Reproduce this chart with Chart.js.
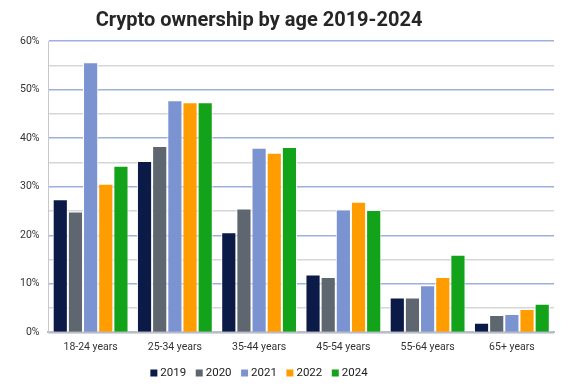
<!DOCTYPE html>
<html>
<head>
<meta charset="utf-8">
<script src="https://cdn.jsdelivr.net/npm/chart.js@4.4.0/dist/chart.umd.min.js"></script>
<style>
  html, body { margin: 0; padding: 0; background: #fff; }
  #wrap { width: 584px; height: 386px; }
</style>
</head>
<body>
<div id="wrap"><canvas id="myChart"></canvas></div>
<script>
// Data dari gambar
const categories = ['18-24 years', '25-34 years', '35-44 years', '45-54 years', '55-64 years', '65+ years'];
const years = ['2019', '2020', '2021', '2022', '2024'];
const v2019 = [27.4, 35.3, 20.6, 11.9, 7.2, 2.0];
const v2020 = [24.9, 38.4, 25.5, 11.4, 7.2, 3.6];
const v2021 = [55.6, 47.8, 38.0, 25.3, 9.7, 3.8];
const v2022 = [30.6, 47.4, 37.0, 26.9, 11.4, 4.8];
const v2024 = [34.3, 47.4, 38.2, 25.2, 16.0, 5.9];
const colors = ['#0c1a47', '#5e666f', '#7c93d2', '#ff9d00', '#13a31b'];
const chartTitle = 'Crypto ownership by age 2019-2024';

const seriesValues = [v2019, v2020, v2021, v2022, v2024];

// Judul dan legend digambar sendiri (posisinya agak ke kiri di gambar asli)
const titleLegendPlugin = {
    id: 'titleLegend',
    afterDraw(chart) {
        const c = chart.ctx;
        const cx = 259;
        c.save();
        c.fillStyle = '#262626';
        c.font = 'bold 20px Roboto';
        c.textAlign = 'center';
        c.textBaseline = 'middle';
        c.fillText(chartTitle, cx, 21);

        // legend
        c.font = '11.5px Roboto';
        c.textAlign = 'left';
        const box = 7, gap = 3, space = 9.5;
        const items = chart.data.datasets.map(ds => ({
            label: ds.label,
            color: ds.backgroundColor,
            w: box + gap + c.measureText(ds.label).width
        }));
        let total = items.reduce((s, it) => s + it.w, 0) + space * (items.length - 1);
        let x = cx - total / 2;
        const y = 373;
        items.forEach(it => {
            c.fillStyle = it.color;
            c.fillRect(x, y - box / 2, box, box);
            c.fillStyle = '#1a1a1a';
            c.fillText(it.label, x + box + gap, y + 0.5);
            x += it.w + space;
        });
        c.restore();
    }
};

const ctx = document.getElementById('myChart').getContext('2d');
const myChart = new Chart(ctx, {
    type: 'bar',
    data: {
        labels: categories,
        datasets: years.map((y, i) => ({
            label: y,
            data: seriesValues[i],
            backgroundColor: colors[i],
            borderColor: '#ffffff',
            borderWidth: 1,
            borderSkipped: 'bottom',
            categoryPercentage: 0.9,
            barPercentage: 1.0
        }))
    },
    options: {
        responsive: true,
        maintainAspectRatio: false,
        animation: false,
        layout: { padding: { left: 11, right: 30, top: 41, bottom: 31 } },
        plugins: {
            title: { display: false },
            legend: { display: false },
            tooltip: { enabled: false }
        },
        scales: {
            x: {
                grid: { display: false },
                border: { color: '#bdbdbd', width: 2 },
                ticks: { color: '#333333', padding: 1, font: { family: 'Roboto', size: 10.5 } }
            },
            y: {
                min: 0,
                max: 60,
                border: { color: '#c8c8c8', width: 1 },
                grid: {
                    color: c => (c.tick.value % 10 === 0 ? '#9eb0dc' : '#d6d6d6'),
                    lineWidth: 1.5,
                    drawTicks: false
                },
                ticks: {
                    stepSize: 5,
                    padding: 9,
                    color: '#333333',
                    font: { family: 'Roboto', size: 10.5 },
                    callback: v => (v % 10 === 0 ? v + '%' : '')
                }
            }
        }
    },
    plugins: [titleLegendPlugin]
});
</script>
</body>
</html>
